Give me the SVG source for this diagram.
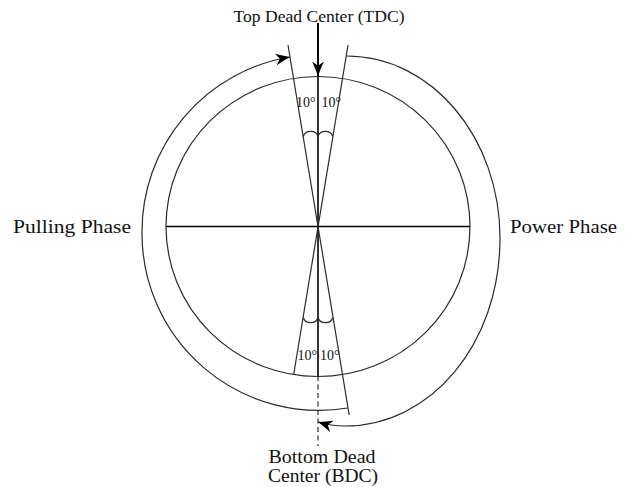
<svg xmlns="http://www.w3.org/2000/svg" width="632" height="487" viewBox="0 0 632 487">
  <style>
    .thin { fill: none; stroke: #2a2a2a; stroke-width: 1.2; }
    .bold { fill: none; stroke: #000; stroke-width: 1.6; }
    .lbl { font-family: "Liberation Serif", "Times New Roman", serif; fill: #111; }
    .deg { font-family: "Liberation Serif", "Times New Roman", serif; font-size: 14px; fill: #111; }
  </style>
  <defs>
    <marker id="ah" viewBox="0 0 15 13" markerWidth="15" markerHeight="13" refX="14.5" refY="6.5" orient="auto" markerUnits="userSpaceOnUse">
      <path d="M14.5,6.5 Q7,3.8 0,0.6 L4.2,6.5 L0,12.4 Q7,9.2 14.5,6.5 Z" fill="#000"/>
    </marker>
  </defs>
  <rect width="632" height="487" fill="#fff"/>

  <g id="crank-circle">
    <ellipse cx="318" cy="226.5" rx="152" ry="150" class="thin"/>
    <line x1="166" y1="226.5" x2="470" y2="226.5" class="bold"/>
    <line x1="318" y1="23" x2="318" y2="376" class="bold"/>
    <line x1="318" y1="376" x2="318" y2="446" class="thin" stroke-dasharray="5 3.5"/>
    <line x1="288" y1="45" x2="349.2" y2="415" class="thin"/>
    <line x1="348" y1="45" x2="293.6" y2="375" class="thin"/>
    <path d="M303.3,136.5 A7.5,6.5 0 0 1 318,136.5 A7.5,6.5 0 0 1 332.7,136.5" class="thin"/>
    <path d="M303.3,317.5 A7.5,6.5 0 0 0 318,317.5 A7.5,6.5 0 0 0 332.7,317.5" class="thin"/>
  </g>

  <g id="angle-labels">
    <text x="296" y="106.5" class="deg">10°</text>
    <text x="321.5" y="106.5" class="deg">10°</text>
    <text x="297.5" y="359.5" class="deg">10°</text>
    <text x="320" y="359.5" class="deg">10°</text>
  </g>

  <g id="connectors">
    <path d="M318,23 L318,76" class="bold" marker-end="url(#ah)"/>
    <path d="M347.8,408 A177,177 0 0 1 142,232 A177,177 0 0 1 290,57" class="thin" marker-end="url(#ah)"/>
    <path d="M346.5,56 C432,56 500,138 500,238 C500,345 430,426 345,426 C335,426 326,424.5 318,422" class="thin" marker-end="url(#ah)"/>
  </g>

  <g id="tdc-label">
    <text x="233.5" y="21.5" class="lbl" font-size="16.5" textLength="171" lengthAdjust="spacingAndGlyphs">Top Dead Center (TDC)</text>
  </g>
  <g id="pulling-phase">
    <text x="13" y="233" class="lbl" font-size="18.5" textLength="118" lengthAdjust="spacingAndGlyphs">Pulling Phase</text>
  </g>
  <g id="power-phase">
    <text x="510" y="233" class="lbl" font-size="18.5" textLength="107" lengthAdjust="spacingAndGlyphs">Power Phase</text>
  </g>
  <g id="bdc-label">
    <text x="268.5" y="463" class="lbl" font-size="18" textLength="107" lengthAdjust="spacingAndGlyphs">Bottom Dead</text>
    <text x="268" y="481.5" class="lbl" font-size="18" textLength="110" lengthAdjust="spacingAndGlyphs">Center (BDC)</text>
  </g>
</svg>
